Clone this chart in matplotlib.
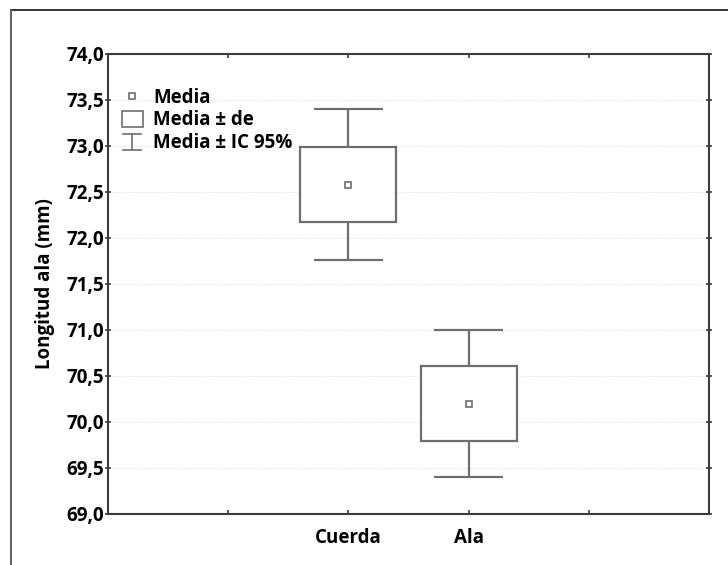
import matplotlib
matplotlib.use("Agg")
import matplotlib.pyplot as plt
from matplotlib.patches import Rectangle
from matplotlib.lines import Line2D
from matplotlib.legend_handler import HandlerBase

# Group summaries: wing length (mm)
categories = ["Cuerda", "Ala"]
positions = [2, 3]
means = [72.58, 70.20]
sd = [0.41, 0.41]
ci_half = [0.82, 0.80]

y_ticks = [69.0, 69.5, 70.0, 70.5, 71.0, 71.5, 72.0, 72.5, 73.0, 73.5, 74.0]
y_tick_labels = [f"{v:.1f}".replace(".", ",") for v in y_ticks]

legend_labels = ["Media", "Media ± de", "Media ± IC 95%"]

plt.rcParams["font.family"] = ["Open Sans", "DejaVu Sans"]
plt.rcParams["font.weight"] = "bold"

FS = 13.5
LINE = "#6e6e6e"
SPINE = "#3c3c3c"

fig = plt.figure(figsize=(7.28, 5.65), dpi=100)
ax = fig.add_axes([108 / 728, 51 / 565, 601 / 728, 460 / 565])

box_w = 0.8
cap_w = 0.57
for x, m, s, c in zip(positions, means, sd, ci_half):
    lo, hi = m - s, m + s
    ax.add_patch(Rectangle((x - box_w / 2, lo), box_w, 2 * s, facecolor="white",
                           edgecolor=LINE, linewidth=1.6, zorder=3))
    ax.plot([x, x], [m - c, lo], color=LINE, lw=1.6, zorder=3, solid_capstyle="butt")
    ax.plot([x, x], [hi, m + c], color=LINE, lw=1.6, zorder=3, solid_capstyle="butt")
    for yv in (m - c, m + c):
        ax.plot([x - cap_w / 2, x + cap_w / 2], [yv, yv], color=LINE, lw=1.6, zorder=3,
                solid_capstyle="butt")
    ax.plot([x], [m], marker="s", ms=4.5, mfc="white", mec=LINE, mew=1.2, zorder=4)

ax.set_xlim(0, 5)
ax.set_ylim(69, 74)
ax.set_xticks([1, 2, 3, 4])
ax.set_xticklabels(["", categories[0], categories[1], ""], fontsize=FS, fontweight="bold")
ax.set_yticks(y_ticks)
ax.set_yticklabels(y_tick_labels, fontsize=FS, fontweight="bold")
ax.tick_params(axis="x", direction="in", length=3, width=1.2, color=SPINE, top=True, pad=10)
ax.tick_params(axis="y", direction="inout", length=4, width=1.2, color=SPINE, right=True, pad=1)
for sp in ax.spines.values():
    sp.set_color(SPINE)
    sp.set_linewidth(1.5)
ax.grid(axis="y", color="#e6e6e6", linestyle=(0, (1, 1)), linewidth=0.8, zorder=0)
ax.set_axisbelow(True)
ax.set_ylabel("Longitud ala (mm)", fontsize=FS, fontweight="bold", labelpad=8)


class CIHandler(HandlerBase):
    def create_artists(self, legend, orig_handle, xdescent, ydescent, width, height,
                       fontsize, trans):
        cx = width / 2 - xdescent
        y0 = -ydescent - 1
        y1 = height - ydescent + 1
        hw = width * 0.4
        return [
            Line2D([cx, cx], [y0, y1], color=LINE, lw=1.2, transform=trans),
            Line2D([cx - hw, cx + hw], [y0, y0], color=LINE, lw=1.2, transform=trans),
            Line2D([cx - hw, cx + hw], [y1, y1], color=LINE, lw=1.2, transform=trans),
        ]


class BoxHandler(HandlerBase):
    def create_artists(self, legend, orig_handle, xdescent, ydescent, width, height,
                       fontsize, trans):
        return [Rectangle((-xdescent + width * 0.02, -ydescent - 1), width * 0.96, height + 2,
                          facecolor="white", edgecolor=LINE, lw=1.2, transform=trans)]


class MeanHandler(HandlerBase):
    def create_artists(self, legend, orig_handle, xdescent, ydescent, width, height,
                       fontsize, trans):
        return [Line2D([width / 2 - xdescent], [height / 2 - ydescent], marker="s", ms=4.5,
                       mfc="white", mec=LINE, mew=1.2, linestyle="none", transform=trans)]


class _H:
    pass


h_mean, h_box, h_ci = _H(), _H(), _H()
ax.legend([h_mean, h_box, h_ci], legend_labels,
          handler_map={h_mean: MeanHandler(), h_box: BoxHandler(), h_ci: CIHandler()},
          loc="upper left", bbox_to_anchor=(0.022, 0.927), frameon=False,
          prop={"size": FS, "weight": "bold"}, handlelength=1.2, handleheight=0.7,
          handletextpad=0.5, labelspacing=0.15, borderaxespad=0.0, borderpad=0.0)

# Outer frame (top and left edges)
fig.add_artist(Line2D([11 / 728, 1.0], [1 - 10 / 565, 1 - 10 / 565], color="#222222",
                      lw=1.3, transform=fig.transFigure))
fig.add_artist(Line2D([11 / 728, 11 / 728], [0.0, 1 - 10 / 565], color="#555555",
                      lw=1.3, transform=fig.transFigure))

fig.savefig("out.png", dpi=100)
